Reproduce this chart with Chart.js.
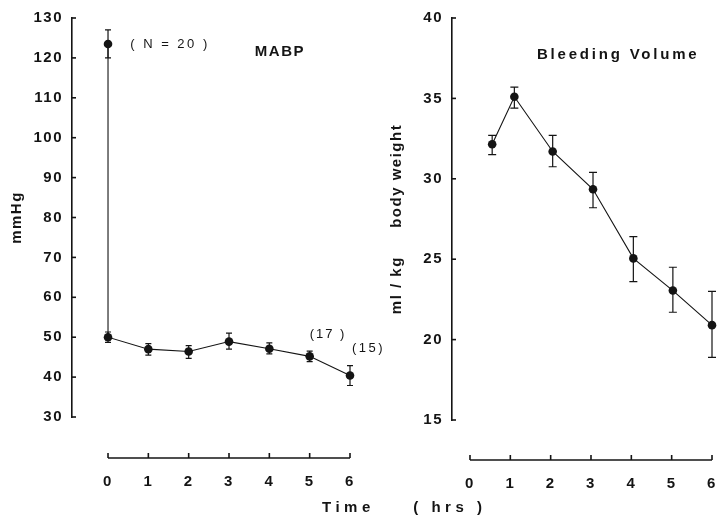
<!DOCTYPE html>
<html>
<head>
<meta charset="utf-8">
<script src="https://cdn.jsdelivr.net/npm/chart.js@4.4.1/dist/chart.umd.min.js"></script>
<style>
    html, body { margin: 0; padding: 0; background: #fff; }
    #wrap { position: relative; width: 725px; height: 524px; }
    .panel { position: absolute; top: 0; height: 524px; }
    #left { left: 0; width: 400px; }
    #right { left: 380px; width: 345px; }
</style>
</head>
<body>
<div id="wrap">
    <div class="panel" id="left"><canvas id="mabpChart"></canvas></div>
    <div class="panel" id="right"><canvas id="bleedChart"></canvas></div>
</div>
<script>
// time axis, hours
const xTicks = [0, 1, 2, 3, 4, 5, 6];

// MABP (mmHg), first two points both at t = 0 (before / after bleeding)
const mabpTime = [0, 0, 1, 2, 3, 4, 5, 6];
const mabpMean = [123.5, 50, 47, 46.4, 48.9, 47.1, 45.2, 40.4];
const mabpHigh = [127, 51.3, 48.4, 47.9, 51.0, 48.6, 46.5, 42.9];
const mabpLow = [120, 48.7, 45.5, 44.7, 47.0, 45.8, 43.9, 37.9];
const mabpTicks = [30, 40, 50, 60, 70, 80, 90, 100, 110, 120, 130];

// Bleeding volume (ml/kg body weight)
const bleedTime = [0.55, 1.1, 2.05, 3.05, 4.05, 5.03, 6];
const bleedMean = [32.15, 35.1, 31.7, 29.35, 25.05, 23.05, 20.9];
const bleedHigh = [32.7, 35.7, 32.7, 30.4, 26.4, 24.5, 23.0];
const bleedLow = [31.5, 34.4, 30.75, 28.2, 23.6, 21.7, 18.9];
const bleedTicks = [15, 20, 25, 30, 35, 40];

const INK = "#141414";
const FONT = "'Liberation Sans', Arial, sans-serif";

function paperPlugin(cfg) {
    return {
        id: "paper",
        beforeDraw(chart) {
            // the printed figure uses a wide-set typeface
            chart.ctx.letterSpacing = "1.5px";
        },
        beforeDatasetsDraw(chart) {
            const ctx = chart.ctx;
            const xs = chart.scales.x;
            const ys = chart.scales.y;
            ctx.save();
            ctx.strokeStyle = INK;
            ctx.lineWidth = 1.2;
            cfg.time.forEach((t, i) => {
                const x = xs.getPixelForValue(t);
                const yHi = ys.getPixelForValue(cfg.high[i]);
                const yLo = ys.getPixelForValue(cfg.low[i]);
                ctx.beginPath();
                ctx.moveTo(x, yHi);
                ctx.lineTo(x, yLo);
                ctx.moveTo(x - cfg.cap, yHi);
                ctx.lineTo(x + cfg.cap, yHi);
                ctx.moveTo(x - cfg.cap, yLo);
                ctx.lineTo(x + cfg.cap, yLo);
                ctx.stroke();
            });
            ctx.restore();
        },
        afterDraw(chart) {
            const ctx = chart.ctx;
            const area = chart.chartArea;
            const xs = chart.scales.x;
            const ys = chart.scales.y;
            ctx.save();
            ctx.strokeStyle = INK;
            ctx.lineWidth = 1.6;

            // small inward ticks on the y axis
            ys.ticks.forEach((tk) => {
                const y = ys.getPixelForValue(tk.value);
                ctx.beginPath();
                ctx.moveTo(ys.right, y);
                ctx.lineTo(ys.right + 4, y);
                ctx.stroke();
            });

            // detached time axis
            const axisY = area.bottom + cfg.axisGap;
            const x0 = xs.getPixelForValue(xTicks[0]);
            const x1 = xs.getPixelForValue(xTicks[xTicks.length - 1]);
            ctx.beginPath();
            ctx.moveTo(x0, axisY);
            ctx.lineTo(x1, axisY);
            ctx.stroke();
            xTicks.forEach((v) => {
                const x = xs.getPixelForValue(v);
                ctx.beginPath();
                ctx.moveTo(x, axisY);
                ctx.lineTo(x, axisY - 5);
                ctx.stroke();
            });

            // text notes
            ctx.fillStyle = INK;
            ctx.textBaseline = "middle";
            cfg.notes.forEach((n) => {
                ctx.font = n.font;
                ctx.letterSpacing = n.spacing || "0px";
                ctx.textAlign = n.align || "left";
                const y = n.below != null ? area.bottom + n.below : ys.getPixelForValue(n.y);
                ctx.fillText(n.text, xs.getPixelForValue(n.x), y);
            });
            ctx.restore();
        },
    };
}

function makeChart(canvas, cfg) {
    const tickFont = { family: FONT, size: 15, weight: "bold" };
    return new Chart(canvas, {
        type: "scatter",
        data: {
            datasets: [
                {
                    data: cfg.time.map((t, i) => ({ x: t, y: cfg.mean[i] })),
                    showLine: true,
                    borderColor: INK,
                    borderWidth: 1.1,
                    pointRadius: 4.3,
                    pointHoverRadius: 4.3,
                    pointBackgroundColor: INK,
                    pointBorderWidth: 0,
                    clip: false,
                },
            ],
        },
        options: {
            responsive: true,
            maintainAspectRatio: false,
            animation: false,
            events: [],
            layout: { padding: { top: 14, right: cfg.padRight, left: 0, bottom: 0 } },
            plugins: {
                legend: { display: false },
                tooltip: { enabled: false },
            },
            scales: {
                x: {
                    type: "linear",
                    min: cfg.xMin,
                    max: 6,
                    grid: { display: false, drawTicks: false },
                    border: { display: false },
                    afterBuildTicks: (s) => {
                        s.ticks = xTicks.map((v) => ({ value: v }));
                    },
                    afterFit: (s) => {
                        s.height = cfg.xHeight;
                    },
                    ticks: {
                        padding: 0,
                        color: INK,
                        // tall line box drops the labels below the detached axis
                        font: { ...tickFont, lineHeight: `${2 * cfg.xLabelDrop}px` },
                        maxRotation: 0,
                        autoSkip: false,
                    },
                },
                y: {
                    type: "linear",
                    min: cfg.yTicks[0],
                    max: cfg.yTicks[cfg.yTicks.length - 1],
                    grid: { display: false, drawTicks: false },
                    border: { display: true, color: INK, width: 1.6 },
                    afterBuildTicks: (s) => {
                        s.ticks = cfg.yTicks.map((v) => ({ value: v }));
                    },
                    afterFit: (s) => {
                        s.width = 72;
                    },
                    ticks: { padding: 9, color: INK, font: tickFont },
                    title: {
                        display: true,
                        text: cfg.yTitle,
                        color: INK,
                        font: { family: FONT, size: 15, weight: "bold" },
                        padding: { top: 8, bottom: 0 },
                    },
                },
            },
        },
        plugins: [paperPlugin(cfg)],
    });
}

makeChart(document.getElementById("mabpChart"), {
    time: mabpTime,
    mean: mabpMean,
    high: mabpHigh,
    low: mabpLow,
    yTicks: mabpTicks,
    yTitle: "mmHg",
    xMin: -0.893,
    padRight: 50,
    xHeight: 107,
    xLabelDrop: 65,
    axisGap: 41,
    cap: 3,
    notes: [
        { text: "( N = 20 )", x: 0.55, y: 123.5, font: `13px ${FONT}`, spacing: "2.5px" },
        { text: "MABP", x: 3.64, y: 121.6, font: `bold 15px ${FONT}`, spacing: "1.5px" },
        { text: "(17 )", x: 5.0, y: 50.8, font: `13px ${FONT}`, spacing: "2px" },
        { text: "(15)", x: 6.05, y: 47.1, font: `13px ${FONT}`, spacing: "2.5px" },
        { text: "Time", x: 5.96, below: 91, font: `bold 15px ${FONT}`, spacing: "4.5px", align: "center" },
    ],
});

makeChart(document.getElementById("bleedChart"), {
    time: bleedTime,
    mean: bleedMean,
    high: bleedHigh,
    low: bleedLow,
    yTicks: bleedTicks,
    yTitle: "ml / kg     body weight",
    xMin: -0.446,
    padRight: 13,
    xHeight: 104,
    xLabelDrop: 64,
    axisGap: 40,
    cap: 4,
    notes: [
        { text: "Bleeding Volume", x: 1.66, y: 37.73, font: `bold 15px ${FONT}`, spacing: "2.8px" },
        { text: "( hrs )", x: -0.5, below: 88, font: `bold 15px ${FONT}`, spacing: "4.5px", align: "center" },
    ],
});
</script>
</body>
</html>
